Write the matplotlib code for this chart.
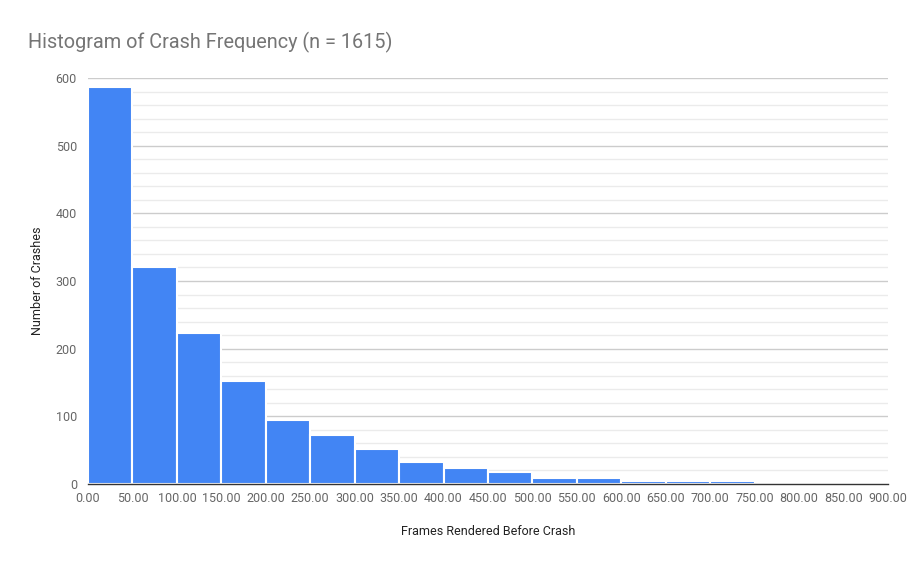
import matplotlib
matplotlib.use("Agg")
import matplotlib.pyplot as plt
import numpy as np

bin_edges = [0, 50, 100, 150, 200, 250, 300, 350, 400, 450, 500, 550, 600, 650, 700, 750, 800, 850, 900]
counts = [587, 321, 223, 152, 94, 73, 52, 33, 24, 17, 9, 9, 5, 5, 5, 1, 1, 1]
x_ticks = list(range(0, 901, 50))
x_tick_labels = [f"{v:.2f}" for v in x_ticks]
y_ticks = [0, 100, 200, 300, 400, 500, 600]

plt.rcParams['font.family'] = ['Roboto', 'DejaVu Sans']

W, H = 918, 566
fig = plt.figure(figsize=(W / 100, H / 100), dpi=100)
ax = fig.add_axes([88 / W, (H - 484) / H, (888 - 88) / W, (484 - 78) / H])

widths = np.diff(bin_edges)
ax.bar(bin_edges[:-1], counts, width=widths, align='edge', color='#4285F4',
       edgecolor='white', linewidth=1.5, zorder=3)

ax.set_xlim(0, 900)
ax.set_ylim(0, 600)
ax.set_xticks(x_ticks)
ax.set_xticklabels(x_tick_labels)
ax.set_yticks(y_ticks)
ax.set_yticks(np.arange(0, 601, 20), minor=True)
ax.grid(True, which='major', axis='y', color='#cccccc', linewidth=1, zorder=0)
ax.grid(True, which='minor', axis='y', color='#ebebeb', linewidth=1, zorder=0)
ax.tick_params(axis='both', which='both', length=0, labelsize=9, labelcolor='#666666')
ax.tick_params(axis='y', pad=8)
ax.tick_params(axis='x', pad=6)
for s in ['top', 'right', 'left']:
    ax.spines[s].set_visible(False)
ax.spines['bottom'].set_color('#333333')
ax.spines['bottom'].set_linewidth(1)
ax.spines['bottom'].set_zorder(4)

ax.set_xlabel('Frames Rendered Before Crash', fontsize=9, color='#222222', labelpad=14)
ax.set_ylabel('Number of Crashes', fontsize=9, color='#222222', labelpad=8)

fig.text(28 / W, 1 - 42 / H, 'Histogram of Crash Frequency (n = 1615)', fontsize=14.3,
         color='#757575', ha='left', va='center')

fig.savefig('out.png', dpi=100, facecolor='white')
